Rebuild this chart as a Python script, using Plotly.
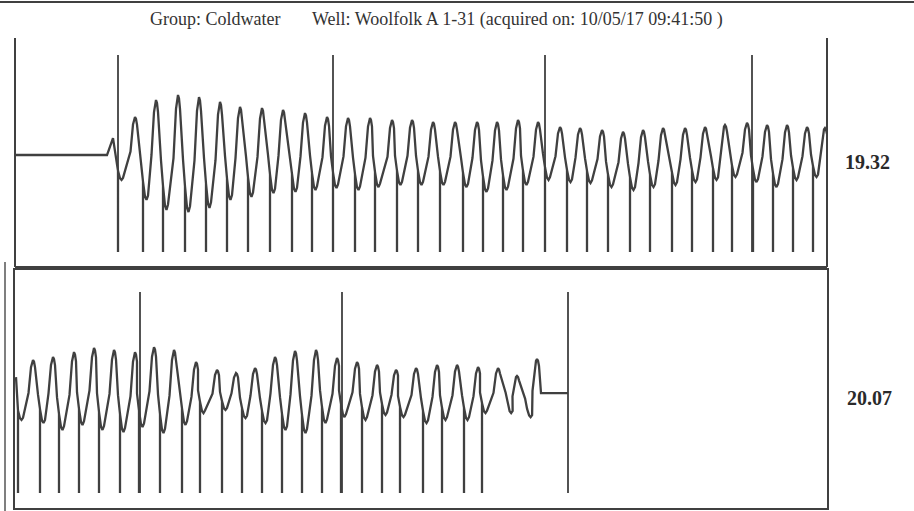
import plotly.graph_objects as go

# ---------------- data ----------------
# Record 1 (upper trace, label 19.32)
top_lead_x = [15, 107, 113]
top_lead_amp = [48.9, 48.9, 56.3]
top_spike_x = [118, 143, 163, 185, 206, 227, 248, 270, 292, 312, 333, 355, 375, 397, 418, 440, 463,
               483, 503, 523, 545, 567, 587, 608, 630, 650, 672, 692, 713, 732, 753, 773, 793, 813]
top_trough_amp = [38.0, 29.3, 24.9, 24.0, 25.8, 29.3, 30.6, 32.3, 32.8, 33.6, 34.5, 33.6, 34.9, 35.8, 35.8, 35.8,
                  34.9, 32.8, 33.6, 35.8, 38.0, 37.1, 36.7, 34.9, 33.6, 34.9, 35.8, 37.1, 38.0, 39.3, 37.1, 34.9,
                  38.0, 39.3]
top_peak_x = [135, 156, 178, 199, 220, 240, 262, 283, 305, 327, 348, 370, 392, 412, 433, 455, 477,
              497, 518, 538, 560, 580, 602, 623, 643, 663, 685, 705, 725, 747, 767, 787, 807, 825]
top_peak_amp = [65.5, 72.9, 75.1, 74.2, 72.1, 69.9, 69.4, 68.6, 67.2, 65.5, 65.1, 65.1, 64.2, 64.2, 63.3, 63.3,
                63.3, 63.3, 64.2, 63.3, 61.1, 60.7, 59.8, 59.0, 59.8, 60.7, 60.7, 61.1, 62.0, 62.9, 62.0, 62.0,
                61.1, 60.7]
top_tail_x = []
top_tail_amp = []
top_floor = 6.6
top_marker_x = [118, 333, 545, 752]
top_marker_amp = 92.6
top_label = "19.32"

# Record 2 (lower trace, label 20.07)
bot_lead_x = [16]
bot_lead_amp = [55.0]
bot_spike_x = [18, 40, 59, 79, 99, 120, 139, 160, 182, 200, 222, 242, 262, 282, 302, 322, 341,
               362, 382, 400, 423, 442, 464, 482, None, None]
bot_trough_amp = [37.0, 35.7, 32.8, 34.9, 32.8, 31.9, 34.0, 31.5, 34.9, 39.9, 41.2, 37.8, 35.7, 32.8, 31.5,
                  35.7, 38.2, 37.0, 39.1, 38.2, 35.7, 37.0, 37.0, 39.9, 39.9, 38.2]
bot_peak_x = [33, 53, 74, 94, 114, 135, 154, 174, 196, 217, 236, 255, 275, 295, 316, 337, 357,
              377, 396, 416, 437, 457, 478, 498, 517, 537]
bot_peak_amp = [62.2, 63.4, 65.5, 67.2, 66.4, 65.5, 67.6, 66.4, 61.3, 58.0, 56.7, 58.8, 63.4, 66.0, 66.4,
                63.0, 61.3, 60.1, 58.0, 58.8, 60.1, 60.1, 59.2, 58.8, 55.5, 62.6]
bot_tail_x = [541, 568]
bot_tail_amp = [48.3, 48.3]
bot_floor = 6.3
bot_marker_x = [140, 342, 568]
bot_marker_amp = 90.8
bot_label = "20.07"

title_left = "Group: Coldwater"
title_right = "Well: Woolfolk A 1-31 (acquired on: 10/05/17 09:41:50 )"

INK = "#404040"


def build_trace(lead_x, lead_amp, spike_x, trough, peak_x, peak_amp, tail_x, tail_amp, floor):
    """Join the read peaks, troughs and spikes into one acoustic trace."""
    xs, ys = list(lead_x), list(lead_amp)
    prev_peak = ys[-1]
    for k in range(len(peak_x)):
        tr = trough[k]
        d = prev_peak - tr
        sx = spike_x[k]
        if sx is None:
            sx_eff = xs[-1] + 0.45 * (peak_x[k] - xs[-1])
            xs += [sx_eff - 2, sx_eff]
            ys += [tr + 0.45 * d, tr + 0.2 * d]
        else:
            sx_eff = sx
            if k > 0 or len(lead_x) > 1:
                xs += [sx - 2]
                ys += [tr + 0.45 * d]
            mid = tr + 0.22 * d
            xs += [sx, sx, sx]
            ys += [mid, floor, mid]
        xs += [sx_eff + 2, sx_eff + 3.5, sx_eff + 5]
        ys += [tr + 0.04 * d, tr, tr + 0.05 * d]
        px, pa = peak_x[k], peak_amp[k]
        r = pa - tr
        xs += [px - 4.5, px - 2, px - 1, px, px + 1, px + 2]
        ys += [tr + 0.45 * r, pa - 0.12 * r, pa - 0.03 * r, pa, pa - 0.03 * r, pa - 0.12 * r]
        prev_peak = pa
    xs += list(tail_x)
    ys += list(tail_amp)
    return xs, ys


def marker_lines(mx, top, floor):
    xs, ys = [], []
    for m in mx:
        xs += [m, m, None]
        ys += [top, floor, None]
    return xs, ys


fig = go.Figure()

tx, ty = build_trace(top_lead_x, top_lead_amp, top_spike_x, top_trough_amp, top_peak_x, top_peak_amp,
                     top_tail_x, top_tail_amp, top_floor)
bx, by = build_trace(bot_lead_x, bot_lead_amp, bot_spike_x, bot_trough_amp, bot_peak_x, bot_peak_amp,
                     bot_tail_x, bot_tail_amp, bot_floor)

fig.add_trace(go.Scatter(x=tx, y=ty, mode="lines", line=dict(color=INK, width=2.3),
                         xaxis="x", yaxis="y", showlegend=False, hoverinfo="skip"))
mx, my = marker_lines(top_marker_x, top_marker_amp, top_floor)
fig.add_trace(go.Scatter(x=mx, y=my, mode="lines", line=dict(color=INK, width=1.8),
                         xaxis="x", yaxis="y", showlegend=False, hoverinfo="skip"))

fig.add_trace(go.Scatter(x=bx, y=by, mode="lines", line=dict(color=INK, width=2.3),
                         xaxis="x2", yaxis="y2", showlegend=False, hoverinfo="skip"))
mx2, my2 = marker_lines(bot_marker_x, bot_marker_amp, bot_floor)
fig.add_trace(go.Scatter(x=mx2, y=my2, mode="lines", line=dict(color=INK, width=1.8),
                         xaxis="x2", yaxis="y2", showlegend=False, hoverinfo="skip"))

H = 511.0
ax_common = dict(range=[15, 827], showgrid=False, zeroline=False, showticklabels=False, ticks="",
                 fixedrange=True)
fig.update_layout(
    width=914, height=511,
    margin=dict(l=15, r=87, t=0, b=0),
    paper_bgcolor="white", plot_bgcolor="white",
    xaxis=dict(**ax_common, domain=[0, 1], anchor="y"),
    yaxis=dict(range=[0, 100], domain=[1 - 267 / H, 1 - 38 / H], showgrid=False, zeroline=False,
               showticklabels=False, ticks="", anchor="x", fixedrange=True),
    xaxis2=dict(**ax_common, domain=[0, 1], anchor="y2", showline=True, mirror=True,
                linecolor=INK, linewidth=2),
    yaxis2=dict(range=[0, 100], domain=[1 - 508 / H, 1 - 270 / H], showgrid=False, zeroline=False,
                showticklabels=False, ticks="", anchor="x2", showline=True, mirror=True,
                linecolor=INK, linewidth=2, fixedrange=True),
)

# frame of the upper record (open at the top)
for s in [dict(x0=0, x1=0, y0=0, y1=1), dict(x0=1, x1=1, y0=0, y1=1), dict(x0=0, x1=1, y0=0, y1=0)]:
    fig.add_shape(type="line", xref="x domain", yref="y domain", line=dict(color=INK, width=2), **s)

# outer page frame of the scan
fig.add_shape(type="line", xref="paper", yref="paper", x0=-15 / 812, x1=1.2, y0=1 - 2 / H, y1=1 - 2 / H,
              line=dict(color=INK, width=2))
fig.add_shape(type="line", xref="paper", yref="paper", x0=-10 / 812, x1=-10 / 812, y0=0, y1=1 - 262 / H,
              line=dict(color="#555555", width=1.5))

fig.add_annotation(text=title_left, xref="paper", yref="paper", x=(148 - 15) / 812, y=1 - 19 / H,
                   xanchor="left", yanchor="middle", showarrow=False,
                   font=dict(family="Liberation Serif", size=18, color="#333333"))
fig.add_annotation(text=title_right, xref="paper", yref="paper", x=(310 - 15) / 812, y=1 - 19 / H,
                   xanchor="left", yanchor="middle", showarrow=False,
                   font=dict(family="Liberation Serif", size=18, color="#333333"))

fig.add_annotation(text="<b>%s</b>" % top_label, xref="paper", yref="paper", x=(867 - 15) / 812,
                   y=1 - 162 / H, xanchor="center", yanchor="middle", showarrow=False,
                   font=dict(family="Liberation Serif", size=20, color="#2a2a2a"))
fig.add_annotation(text="<b>%s</b>" % bot_label, xref="paper", yref="paper", x=(869 - 15) / 812,
                   y=1 - 398 / H, xanchor="center", yanchor="middle", showarrow=False,
                   font=dict(family="Liberation Serif", size=20, color="#2a2a2a"))

fig.write_html("out.html", config={"displayModeBar": False},
               post_script="document.body.style.margin='0';")
